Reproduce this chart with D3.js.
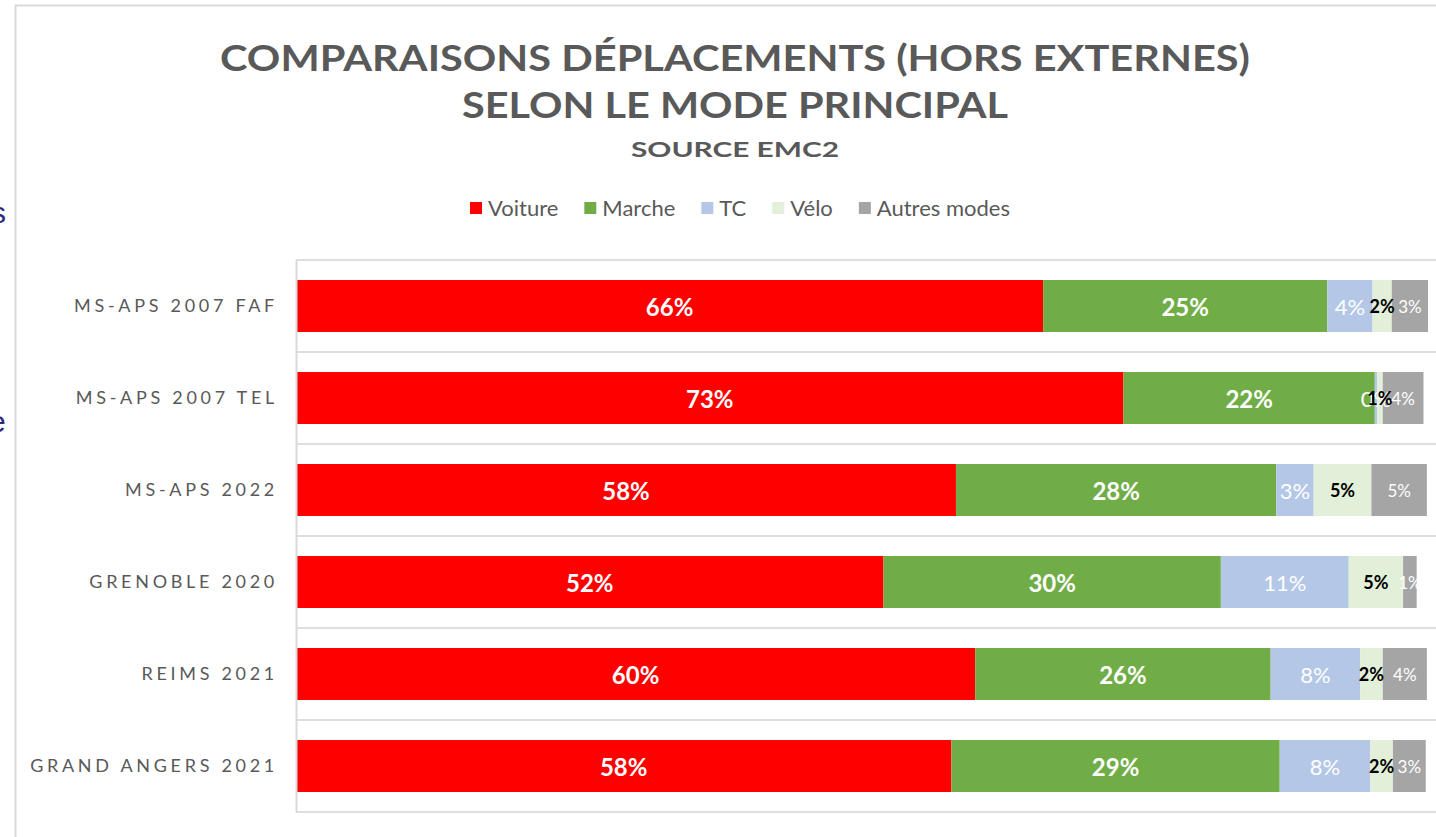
<!DOCTYPE html>
<html lang="fr">
<head>
<meta charset="utf-8">
<title>Comparaisons déplacements</title>
<script src="https://d3js.org/d3.v7.min.js"></script>
<style>
  body { margin: 0; background: #fff; font-family: Lato, "Open Sans", sans-serif; }
  svg { display: block; }
</style>
</head>
<body>
<script>
// data (percent of trips)
var categories = ["MS-APS 2007 FAF", "MS-APS 2007 TEL", "MS-APS 2022", "GRENOBLE 2020", "REIMS 2021", "GRAND ANGERS 2021"];
var modes = ["Voiture", "Marche", "TC", "Vélo", "Autres modes"];
var voiture = [66.0, 73.1, 58.3, 51.9, 60.0, 57.9];
var marche  = [25.1, 22.2, 28.3, 29.8, 26.1, 29.0];
var tc      = [4.0, 0.2, 3.3, 11.3, 7.9, 8.0];
var velo    = [1.7, 0.5, 5.1, 4.8, 2.0, 2.0];
var autres  = [3.2, 3.6, 4.9, 1.2, 3.9, 2.9];
var colors = ["#ff0000", "#70ad47", "#b4c7e7", "#e2f0d9", "#a5a5a5"];
var titleLines = ["COMPARAISONS  DÉPLACEMENTS  (HORS  EXTERNES)", "SELON  LE  MODE  PRINCIPAL", "SOURCE EMC2"];

var w = 1436, h = 837;
var svg = d3.select("body").append("svg").attr("width", w).attr("height", h);

// background slide leftovers + chart frame
svg.append("text").attr("x", -9).attr("y", 223).attr("font-size", 30)
  .attr("font-family", "Liberation Sans").attr("fill", "#2b2a7c").text("s");
svg.append("text").attr("x", -11).attr("y", 432).attr("font-size", 30)
  .attr("font-family", "Liberation Sans").attr("fill", "#2b2a7c").text("e");
svg.append("rect").attr("x", 15.5).attr("y", 5.5).attr("width", 1440).attr("height", 850)
  .attr("fill", "#fff").attr("stroke", "#d9d9d9").attr("stroke-width", 2);

// title
var tw = [1030, 546, 208];
var ty = [71, 118, 157];
var ts = [36, 36, 20];
titleLines.forEach(function(t, i) {
  svg.append("text")
    .attr("x", 735 - tw[i] / 2).attr("y", ty[i])
    .attr("textLength", tw[i]).attr("lengthAdjust", "spacingAndGlyphs")
    .attr("font-size", ts[i]).attr("font-weight", "bold")
    .attr("fill", "#595959").text(t);
});

// stacked data
var rows = categories.map(function(c, i) {
  return { cat: c, "Voiture": voiture[i], "Marche": marche[i], "TC": tc[i], "Vélo": velo[i], "Autres modes": autres[i] };
});
var stack = d3.stack().keys(modes)(rows);

var x = d3.scaleLinear().domain([0, 100]).range([296, 1428]);
var y = d3.scaleBand().domain(categories).range([260, 812]).paddingInner(0.435).paddingOuter(0.2175);
var color = d3.scaleOrdinal().domain(modes).range(colors);

// horizontal separators between categories
var seps = d3.range(categories.length + 1);
svg.selectAll(".sep").data(seps).enter().append("line")
  .attr("x1", 296).attr("x2", w)
  .attr("y1", function(d) { return 260 + d * y.step(); })
  .attr("y2", function(d) { return 260 + d * y.step(); })
  .attr("stroke", "#dedede").attr("stroke-width", 2);

// bars
var layer = svg.selectAll(".layer").data(stack).enter().append("g")
  .attr("fill", function(d) { return color(d.key); });
layer.selectAll("rect").data(function(d) { return d; }).enter().append("rect")
  .attr("x", function(d) { return x(d[0]); })
  .attr("y", function(d) { return y(d.data.cat); })
  .attr("width", function(d) { return x(d[1]) - x(d[0]); })
  .attr("height", y.bandwidth());

// left axis
var yAxis = d3.axisLeft(y).tickSize(0).tickPadding(18);
var ga = svg.append("g").attr("transform", "translate(296,0)").call(yAxis);
ga.select(".domain").attr("stroke", "#d9d9d9").attr("stroke-width", 2);
ga.selectAll("text").attr("font-family", "Lato").attr("font-size", 18)
  .attr("letter-spacing", "3.7px").attr("fill", "#595959");

// value labels
var labStyle = {
  "Voiture": { fill: "#fff", weight: "bold", size: 24 },
  "Marche": { fill: "#fff", weight: "bold", size: 24 },
  "TC": { fill: "#fff", weight: "normal", size: 22 },
  "Vélo": { fill: "#000", weight: "bold", size: 18 },
  "Autres modes": { fill: "#fff", weight: "normal", size: 17 }
};
stack.forEach(function(s) {
  var st = labStyle[s.key];
  svg.append("g").selectAll("text").data(s).enter().append("text")
    .attr("x", function(d) { return (x(d[0]) + x(d[1])) / 2; })
    .attr("y", function(d) { return y(d.data.cat) + y.bandwidth() / 2; })
    .attr("text-anchor", "middle").attr("dominant-baseline", "central")
    .attr("fill", st.fill).attr("font-weight", st.weight).attr("font-size", st.size)
    .text(function(d) { return Math.round(d[1] - d[0]) + "%"; });
});

// legend
var leg = svg.append("g");
var lx = 470;
modes.forEach(function(m) {
  var g = leg.append("g");
  g.append("rect").attr("x", lx).attr("y", 202).attr("width", 12).attr("height", 12).attr("fill", color(m));
  var t = g.append("text").attr("x", lx + 18).attr("y", 216).attr("font-size", 22)
    .attr("fill", "#595959").text(m);
  lx += 18 + t.node().getComputedTextLength() + 26;
});
</script>
</body>
</html>
